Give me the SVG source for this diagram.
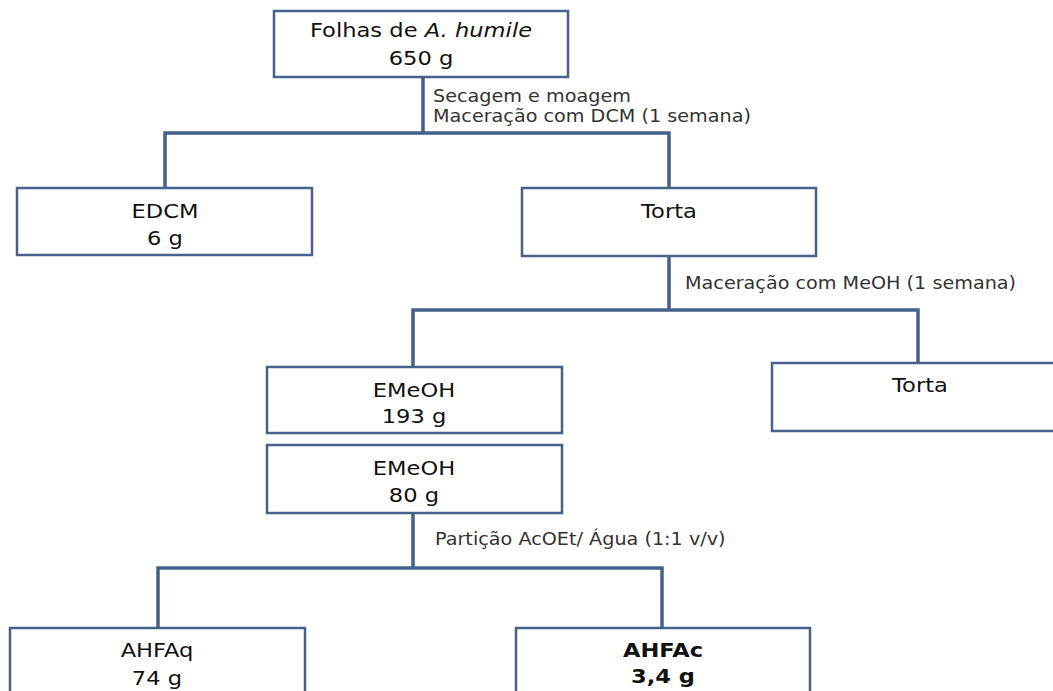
<svg xmlns="http://www.w3.org/2000/svg" width="1053" height="691" viewBox="0 0 1053 691">
<style>
.box{fill:#ffffff;stroke:#46618a;stroke-width:2.5}
.con{fill:none;stroke:#44618c;stroke-width:3.5;stroke-linejoin:miter}
.nt{font-family:"DejaVu Sans",Verdana,sans-serif;font-size:20px;fill:#111;text-anchor:middle}
.lb{font-family:"DejaVu Sans",Verdana,sans-serif;font-size:17px;fill:#333}
.b{font-weight:bold}
</style>
<rect width="1053" height="691" fill="#ffffff"/>
<g id="connectors">
<path class="con" d="M423 77 V133 M165 188 V133 H669 V188"/>
<path class="con" d="M669 256 V310 M413 367 V310 H918 V363"/>
<path class="con" d="M413 513 V568 M158 628 V568 H662 V628"/>
</g>
<g id="labels">
<text class="lb" transform="translate(433 102) scale(1.13 1)">Secagem e moagem</text>
<text class="lb" transform="translate(433 122) scale(1.13 1)">Maceração com DCM (1 semana)</text>
<text class="lb" transform="translate(685 289) scale(1.13 1)">Maceração com MeOH (1 semana)</text>
<text class="lb" transform="translate(435 545) scale(1.13 1)">Partição AcOEt/ Água (1:1 v/v)</text>
</g>
<g id="folhas">
<rect class="box" x="274" y="11" width="294" height="66"/>
<text class="nt" transform="translate(421 37) scale(1.13 1)">Folhas de <tspan font-style="italic">A. humile</tspan></text>
<text class="nt" transform="translate(421 65) scale(1.13 1)">650 g</text>
</g>
<g id="edcm">
<rect class="box" x="17" y="188" width="295" height="67"/>
<text class="nt" transform="translate(165 218) scale(1.13 1)">EDCM</text>
<text class="nt" transform="translate(165 245) scale(1.13 1)">6 g</text>
</g>
<g id="torta1">
<rect class="box" x="522" y="188" width="294" height="68"/>
<text class="nt" transform="translate(669 218) scale(1.13 1)">Torta</text>
</g>
<g id="emeoh1">
<rect class="box" x="267" y="367" width="295" height="66"/>
<text class="nt" transform="translate(414 397) scale(1.13 1)">EMeOH</text>
<text class="nt" transform="translate(414 423) scale(1.13 1)">193 g</text>
</g>
<g id="torta2">
<rect class="box" x="772" y="363" width="300" height="68"/>
<text class="nt" transform="translate(920 392) scale(1.13 1)">Torta</text>
</g>
<g id="emeoh2">
<rect class="box" x="267" y="445" width="295" height="68"/>
<text class="nt" transform="translate(414 475) scale(1.13 1)">EMeOH</text>
<text class="nt" transform="translate(414 502) scale(1.13 1)">80 g</text>
</g>
<g id="ahfaq">
<rect class="box" x="10" y="628" width="295" height="80"/>
<text class="nt" transform="translate(157 657) scale(1.13 1)">AHFAq</text>
<text class="nt" transform="translate(157 685) scale(1.13 1)">74 g</text>
</g>
<g id="ahfac">
<rect class="box" x="516" y="628" width="294" height="80"/>
<text class="nt b" transform="translate(663 657) scale(1.13 1)">AHFAc</text>
<text class="nt b" transform="translate(663 683) scale(1.13 1)">3,4 g</text>
</g>
</svg>
